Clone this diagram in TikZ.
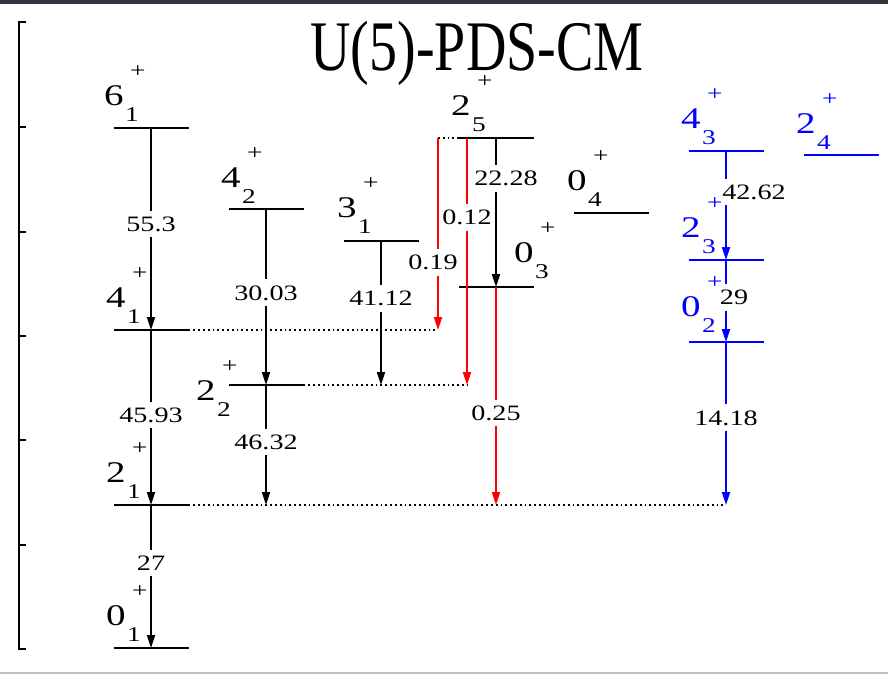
\documentclass[tikz,border=0pt]{standalone}
\usepackage{fontspec}
\setmainfont{Liberation Serif}
\usetikzlibrary{arrows.meta,calc,positioning}
\definecolor{bandgray}{HTML}{2E3440}
\newcommand{\spinlab}[2]{\scalebox{1.3}[1]{\fontsize{30}{30}\selectfont #1\hspace{1pt}\rlap{\raisebox{-16pt}{\fontsize{21}{21}\selectfont #2}}\hspace{4pt}\raisebox{28pt}{\fontsize{21}{21}\selectfont +}}}
\newcommand{\tval}[1]{\scalebox{1.28}[1]{#1}}
\tikzset{
  lvl/.style={minimum width=75pt,minimum height=0pt,inner sep=0pt,outer sep=0pt},
  lvlline/.style={line width=2.2pt},
  tr/.style={-{Triangle[length=13pt,width=8pt]},line width=2pt},
  dotline/.style={line width=1.8pt,dash pattern=on 1.8pt off 3pt},
  lbl/.style={fill=white,text=black,inner xsep=1pt,inner ysep=6pt,font=\fontsize{22}{24}\selectfont},
  jlab/.style={anchor=base west,inner sep=0pt},
}
\begin{document}
\begin{tikzpicture}[x=1pt,y=-1pt]
  \useasboundingbox (0,0) rectangle (888,675);
  \fill[bandgray] (0,0) rectangle (888,4);
  \fill[black!25] (0,672) rectangle (888,674);
  % energy axis
  \draw[line width=1.5pt] (26,22) -- (19,22) -- (19,649) -- (26,649);
  \foreach \ty in {127,232,336,440,545}
    \draw[line width=1.5pt] (19,\ty) -- (26,\ty);
  \node[anchor=base,inner sep=0pt] (title) at (477,70)
    {\scalebox{1}[1.27]{\fontsize{56}{56}\selectfont U(5)-PDS-CM}};

  % levels
  \node[lvl] (s61) at (151,128) {};
  \node[lvl] (s41) at (151,330) {};
  \node[lvl] (s21) at (151,505) {};
  \node[lvl] (s01) at (151,648) {};
  \node[lvl] (s42) at (266,209) {};
  \node[lvl] (s22) at (266,385) {};
  \node[lvl] (s31) at (381,241) {};
  \node[lvl] (s25) at (496,138) {};
  \node[lvl] (s03) at (496,287) {};
  \node[lvl] (s04) at (611,213) {};
  \node[lvl] (s43) at (726,151) {};
  \node[lvl] (s24) at (841,155) {};
  \node[lvl] (s23) at (726,260) {};
  \node[lvl] (s02) at (726,342) {};
  \coordinate (r019) at ($(s25.west)+(-20.5,0)$);
  \coordinate (r012) at ($(s25.west)+(8.5,0)$);

  \foreach \s in {s61,s41,s21,s42,s22,s31,s25,s03,s04}
    \draw[lvlline] (\s.west) -- (\s.east);
  \draw[line width=1.4pt] (s01.west) -- (s01.east);
  \foreach \s in {s43,s24,s23,s02}
    \draw[lvlline,blue] (\s.west) -- (\s.east);

  \draw[dotline] (r019) -- (s25.west);
  \draw[dotline] (s41.east) -- (r019 |- s41);
  \draw[dotline] (s22.east) -- (r012 |- s22);
  \draw[dotline] (s21.east) -- (s43 |- s21);

  % transitions
  \draw[tr] (s61.center) -- (s41.center) node[lbl,pos=.475] {\tval{55.3}};
  \draw[tr] (s41.center) -- (s21.center) node[lbl,pos=.486] {\tval{45.93}};
  \draw[tr] (s21.center) -- (s01.center) node[lbl,pos=.406] {\tval{27}};
  \draw[tr] (s42.center) -- (s22.center) node[lbl,pos=.477] {\tval{30.03}};
  \draw[tr] (s22.center) -- (s22 |- s21) node[lbl,pos=.475] {\tval{46.32}};
  \draw[tr] (s31.center) -- (s31 |- s22) node[lbl,pos=.40] {\tval{41.12}};
  \draw[tr,red] (r019) -- (r019 |- s41) node[lbl,pos=.646,xshift=-5pt] {\tval{0.19}};
  \draw[tr,red] (r012) -- (r012 |- s22) node[lbl,pos=.32] {\tval{0.12}};
  \draw[tr] (s25.center) -- (s03.center) node[lbl,pos=.27,xshift=10pt] {\tval{22.28}};
  \draw[tr,red] (s03.center) -- (s03 |- s21) node[lbl,pos=.578] {\tval{0.25}};
  \draw[tr,blue] (s43.center) -- (s23.center) node[lbl,pos=.376,xshift=28pt] {\tval{42.62}};
  \draw[tr,blue] (s23.center) -- (s02.center) node[lbl,pos=.46,xshift=8pt] {\tval{29}};
  \draw[tr,blue] (s02.center) -- (s02 |- s21) node[lbl,pos=.466] {\tval{14.18}};

  % level labels
  \node[jlab] (j61) at (104,105) {\spinlab{6}{1}};
  \node[jlab] (j41) at (106,307) {\spinlab{4}{1}};
  \node[jlab] (j21) at (106,482) {\spinlab{2}{1}};
  \node[jlab] (j01) at (106,625) {\spinlab{0}{1}};
  \node[jlab] (j42) at (221,187) {\spinlab{4}{2}};
  \node[jlab] (j22) at (196,400) {\spinlab{2}{2}};
  \node[jlab] (j31) at (337,217) {\spinlab{3}{1}};
  \node[jlab] (j25) at (451,115) {\spinlab{2}{5}};
  \node[jlab] (j03) at (514,262) {\spinlab{0}{3}};
  \node[jlab] (j04) at (567,190) {\spinlab{0}{4}};
  \node[jlab,text=blue] (j43) at (681,128) {\spinlab{4}{3}};
  \node[jlab,text=blue] (j24) at (796,133) {\spinlab{2}{4}};
  \node[jlab,text=blue] (j23) at (681,237) {\spinlab{2}{3}};
  \node[jlab,text=blue] (j02) at (681,316) {\spinlab{0}{2}};
\end{tikzpicture}
\end{document}
